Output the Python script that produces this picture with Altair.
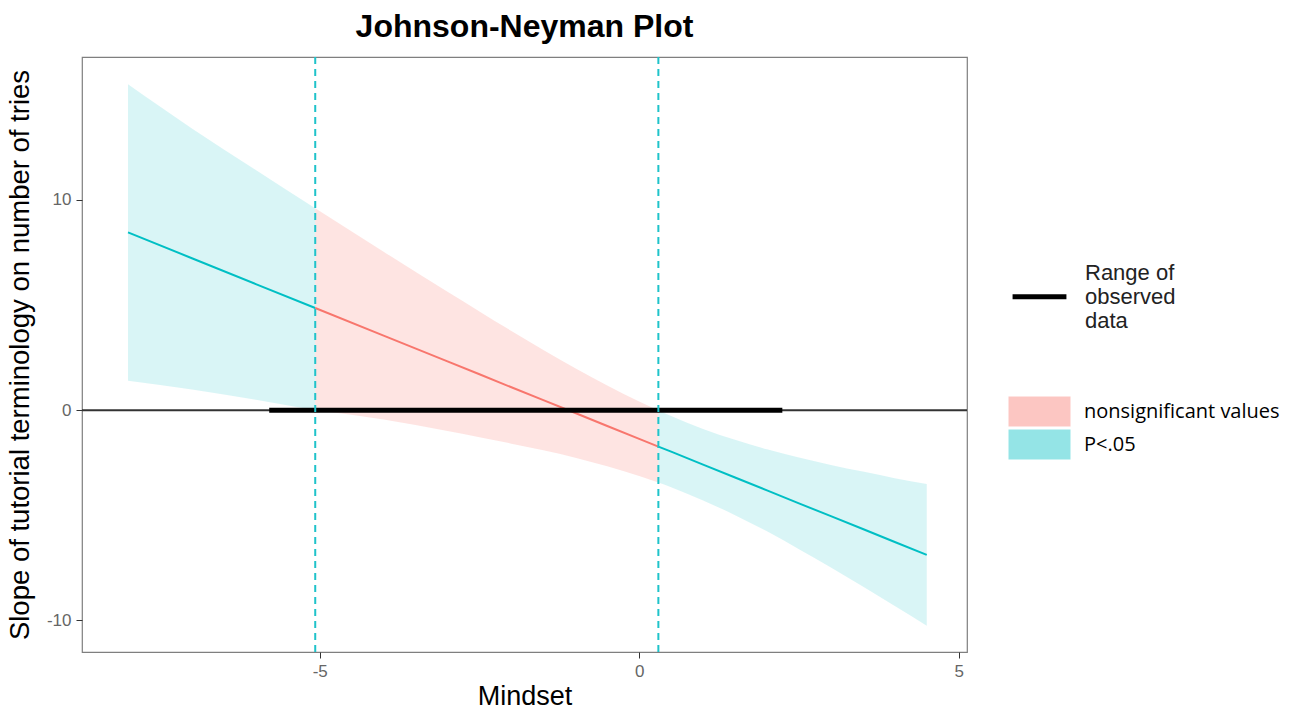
import altair as alt
import pandas as pd

# Estimates: slope of tutorial terminology, 95% band
left_x = [-8.0, -7.0, -6.0, -5.07]
left_est = [8.46, 7.23, 6.00, 4.86]
left_lo = [1.40, 0.98, 0.50, 0.00]
left_hi = [15.50, 13.40, 11.43, 9.61]

mid_x = [-5.07, -4.0, -3.0, -2.5, -2.0, -1.5, -1.0, -0.5, 0.0, 0.30]
mid_est = [4.86, 3.55, 2.32, 1.71, 1.09, 0.48, -0.13, -0.75, -1.36, -1.73]
mid_lo = [0.00, -0.44, -0.99, -1.28, -1.59, -1.91, -2.26, -2.67, -3.13, -3.44]
mid_hi = [9.61, 7.54, 5.63, 4.70, 3.77, 2.87, 2.00, 1.17, 0.41, 0.00]

right_x = [0.30, 0.5, 1.0, 1.5, 2.0, 2.5, 3.0, 3.5, 4.0, 4.5]
right_est = [-1.73, -1.97, -2.59, -3.20, -3.81, -4.43, -5.04, -5.65, -6.27, -6.88]
right_lo = [-3.44, -3.66, -4.29, -4.99, -5.76, -6.61, -7.48, -8.38, -9.31, -10.25]
right_hi = [0.00, -0.28, -0.89, -1.41, -1.86, -2.25, -2.60, -2.92, -3.23, -3.51]

jn_points = [-5.07, 0.30]
observed_range = [-5.79, 2.24]

sig_labels = ["nonsignificant values", "P<.05"]
sig_colors = ["#F8766D", "#00BFC4"]
sig_alpha = [0.2, 0.15]

rows = []
for seg, xs, es, los, his, sig in [
    ("left", left_x, left_est, left_lo, left_hi, "P<.05"),
    ("mid", mid_x, mid_est, mid_lo, mid_hi, "nonsignificant values"),
    ("right", right_x, right_est, right_lo, right_hi, "P<.05"),
]:
    for x, e, lo, hi in zip(xs, es, los, his):
        rows.append({"x": x, "est": e, "lo": lo, "hi": hi, "seg": seg, "sig": sig})
df = pd.DataFrame(rows)

range_df = pd.DataFrame({"x": [observed_range[0]], "x2": [observed_range[1]], "y": [0],
                         "lab": ["Range of observed data"]})
jn_df = pd.DataFrame({"x": jn_points})
zero_df = pd.DataFrame({"y": [0]})

FONT = "Liberation Sans"
xscale = alt.Scale(domain=[-8.72, 5.13], nice=False, zero=False)
yscale = alt.Scale(domain=[-11.5, 16.8], nice=False, zero=False)

xax = alt.Axis(values=[-5, 0, 5], grid=False, title="Mindset", titleFontSize=27,
               titleFont=FONT, titleFontWeight="normal", titleColor="black",
               labelFontSize=17, labelFont=FONT, labelColor="#666666",
               labelExpr="toString(datum.value)", tickSize=6,
               tickColor="#333333", domain=False, titlePadding=4, labelPadding=5)
yax = alt.Axis(values=[-10, 0, 10], grid=False,
               title="Slope of tutorial terminology on number of tries",
               titleFontSize=27.5, titleFont=FONT, titleFontWeight="normal",
               titleColor="black", labelFontSize=17, labelFont=FONT,
               labelColor="#666666", labelExpr="toString(datum.value)", tickSize=6,
               tickColor="#333333", domain=False, titlePadding=12, labelPadding=5)

bands = alt.Chart(df).mark_area(interpolate="monotone").encode(
    x=alt.X("x:Q", scale=xscale, axis=xax),
    y=alt.Y("lo:Q", scale=yscale, axis=yax),
    y2="hi:Q",
    fill=alt.Fill("sig:N", scale=alt.Scale(domain=sig_labels, range=sig_colors),
                  legend=alt.Legend(title=None, orient="none", legendX=942, legendY=339,
                                    symbolType="M-2,-0.97H2V0.97H-2Z", symbolSize=961,
                                    symbolOpacity=0.42, symbolStrokeWidth=0,
                                    labelFontSize=20, labelFont="Open Sans",
                                    labelColor="black", labelOffset=29, rowPadding=2,
                                    labelLimit=400)),
    fillOpacity=alt.FillOpacity("sig:N", scale=alt.Scale(domain=sig_labels, range=sig_alpha),
                                legend=None),
    detail="seg:N",
)

lines = alt.Chart(df).mark_line(strokeWidth=2, interpolate="linear").encode(
    x="x:Q",
    y="est:Q",
    color=alt.Color("sig:N", scale=alt.Scale(domain=sig_labels, range=sig_colors), legend=None),
    detail="seg:N",
)

zero = alt.Chart(zero_df).mark_rule(color="#333333", strokeWidth=2).encode(y="y:Q")

rng = alt.Chart(range_df).mark_rule(strokeWidth=5).encode(
    x="x:Q", x2="x2:Q", y="y:Q",
    stroke=alt.Stroke("lab:N", scale=alt.Scale(range=["black"]),
                      legend=alt.Legend(title=None, orient="none", legendX=928, legendY=186,
                                        symbolType="M-1,0.9H1", symbolSize=2900,
                                        symbolStrokeWidth=5, symbolStrokeColor="black",
                                        symbolFillColor="transparent",
                                        labelFontSize=22, labelFont=FONT, labelColor="#222222",
                                        labelOffset=16, labelLimit=400,
                                        labelExpr="datum.label == 'Range of observed data' ? ['Range of', 'observed', 'data'] : datum.label")),
)

jn = alt.Chart(jn_df).mark_rule(color="#1FC3CA", strokeWidth=2, strokeDash=[7, 5]).encode(x="x:Q")

chart = alt.layer(bands, lines, zero, rng, jn).resolve_scale(
    fill="independent", stroke="independent", color="independent"
).properties(
    width=885, height=595,
    title=alt.Title("Johnson-Neyman Plot", fontSize=32, font=FONT, fontWeight="bold",
                    color="black", anchor="middle", frame="group", offset=12),
).configure(
    background="white", padding={"left": 6, "top": 11, "right": 5, "bottom": 5},
    view=alt.ViewConfig(stroke="#7F7F7F", strokeWidth=1.2),
)

chart.save("out.html", embed_options={"renderer": "svg", "actions": False})
